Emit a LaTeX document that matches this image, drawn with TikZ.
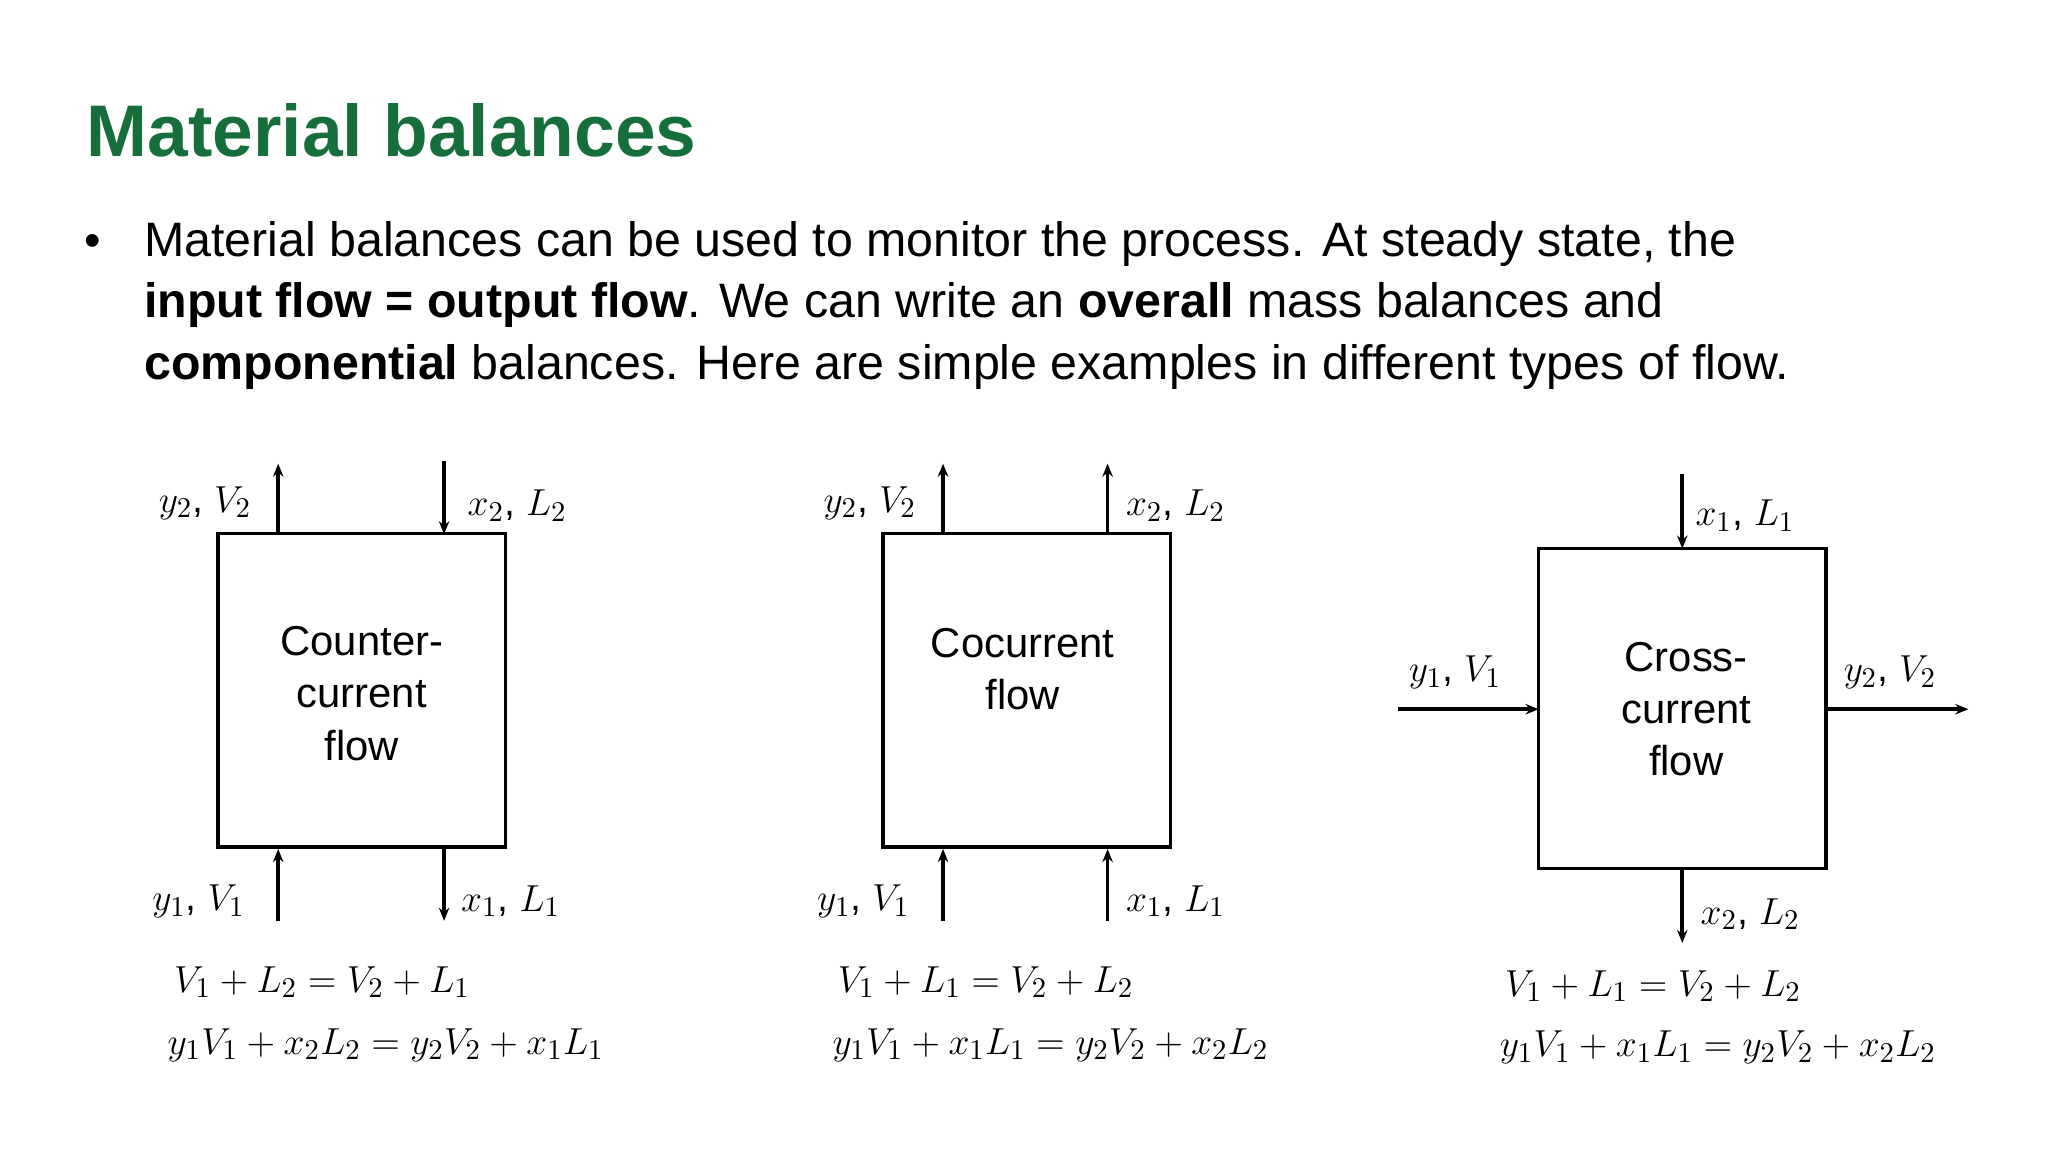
\documentclass[tikz,border=0pt]{standalone}
\usepackage{fontspec}
\setmainfont{Liberation Sans}
\newfontfamily\serifit{Liberation Serif}
\usetikzlibrary{arrows.meta}
\definecolor{titlegreen}{RGB}{22,110,58}
\tikzset{
  flow/.style={line width=1.4pt,-{Stealth[length=5pt,width=4pt]}},
  unit/.style={draw,line width=1.3pt,minimum width=110pt,minimum height=120pt,inner sep=0pt},
  boxtext/.style={align=center,font=\fontsize{16}{20}\selectfont},
  lbl/.style={font=\fontsize{15}{18}\selectfont,inner sep=1pt},
  eq/.style={anchor=west,font=\fontsize{15}{18}\selectfont,inner sep=0pt}
}
\begin{document}
\begin{tikzpicture}[x=0.5pt,y=-0.5pt]
\useasboundingbox[fill=white] (0,0) rectangle (1568,882);
\node[anchor=west,text=titlegreen,font=\fontsize{28}{32}\selectfont\bfseries,inner sep=0pt] (title) at (66,100) {Material balances};
\node[anchor=west,font=\fontsize{18}{22}\selectfont,inner sep=0pt] (bul) at (64,188) {\textbullet};
\node[anchor=north west,align=left,font=\fontsize{18.5}{23.5}\selectfont,inner sep=0pt] (body) at (110,169) {Material balances can be used to monitor the process. At steady state, the\\
\textbf{input flow = output flow}. We can write an \textbf{overall} mass balances and\\
\textbf{componential} balances. Here are simple examples in different types of flow.};

% Box 1
\node[unit] (b1) at (277,528.5) {};
\node[boxtext] (t1) at (277,531) {Counter-\\current\\flow};
\coordinate (a1s) at (213,409); \coordinate (a1e) at (213,355);
\coordinate (a2s) at (340,353); \coordinate (a2e) at (340,409);
\coordinate (a3s) at (213,705); \coordinate (a3e) at (213,650);
\coordinate (a4s) at (340,650); \coordinate (a4e) at (340,705);
\draw[flow] (a1s) -- (a1e); \draw[flow] (a2s) -- (a2e);
\draw[flow] (a3s) -- (a3e); \draw[flow] (a4s) -- (a4e);
\node[lbl] (l11) at (157,385) {$y_2$, $V_2$};
\node[lbl] (l12) at (396,387) {$x_2$, $L_2$};
\node[lbl] (l13) at (152,690) {$y_1$, $V_1$};
\node[lbl] (l14) at (391,690) {$x_1$, $L_1$};
\node[eq] (e11) at (133,752) {$V_1+L_2=V_2+L_1$};
\node[eq] (e12) at (128,800) {$y_1V_1+x_2L_2=y_2V_2+x_1L_1$};

% Box 2
\node[unit] (b2) at (786,528.5) {};
\node[boxtext] (t2) at (783,512) {Cocurrent\\flow};
\coordinate (c1s) at (722,409); \coordinate (c1e) at (722,355);
\coordinate (c2s) at (848,409); \coordinate (c2e) at (848,355);
\coordinate (c3s) at (722,705); \coordinate (c3e) at (722,650);
\coordinate (c4s) at (848,705); \coordinate (c4e) at (848,650);
\draw[flow] (c1s) -- (c1e); \draw[flow] (c2s) -- (c2e);
\draw[flow] (c3s) -- (c3e); \draw[flow] (c4s) -- (c4e);
\node[lbl] (l21) at (666,385) {$y_2$, $V_2$};
\node[lbl] (l22) at (900,387) {$x_2$, $L_2$};
\node[lbl] (l23) at (661,690) {$y_1$, $V_1$};
\node[lbl] (l24) at (900,690) {$x_1$, $L_1$};
\node[eq] (e21) at (641,752) {$V_1+L_1=V_2+L_2$};
\node[eq] (e22) at (637,800) {$y_1V_1+x_1L_1=y_2V_2+x_2L_2$};

% Box 3
\node[unit,minimum height=122.5pt] (b3) at (1288,542.5) {};
\node[boxtext] (t3) at (1291,543) {Cross-\\current\\flow};
\coordinate (d1s) at (1288,363); \coordinate (d1e) at (1288,420);
\coordinate (d2s) at (1288,665); \coordinate (d2e) at (1288,722);
\coordinate (d3s) at (1070,543); \coordinate (d3e) at (1178,543);
\coordinate (d4s) at (1398,543); \coordinate (d4e) at (1507,543);
\draw[flow] (d1s) -- (d1e); \draw[flow] (d2s) -- (d2e);
\draw[flow] (d3s) -- (d3e); \draw[flow] (d4s) -- (d4e);
\node[lbl] (l31) at (1336,395) {$x_1$, $L_1$};
\node[lbl] (l32) at (1114,515) {$y_1$, $V_1$};
\node[lbl] (l33) at (1447,515) {$y_2$, $V_2$};
\node[lbl] (l34) at (1340,700) {$x_2$, $L_2$};
\node[eq] (e31) at (1152,755) {$V_1+L_1=V_2+L_2$};
\node[eq] (e32) at (1148,802) {$y_1V_1+x_1L_1=y_2V_2+x_2L_2$};
\end{tikzpicture}
\end{document}
